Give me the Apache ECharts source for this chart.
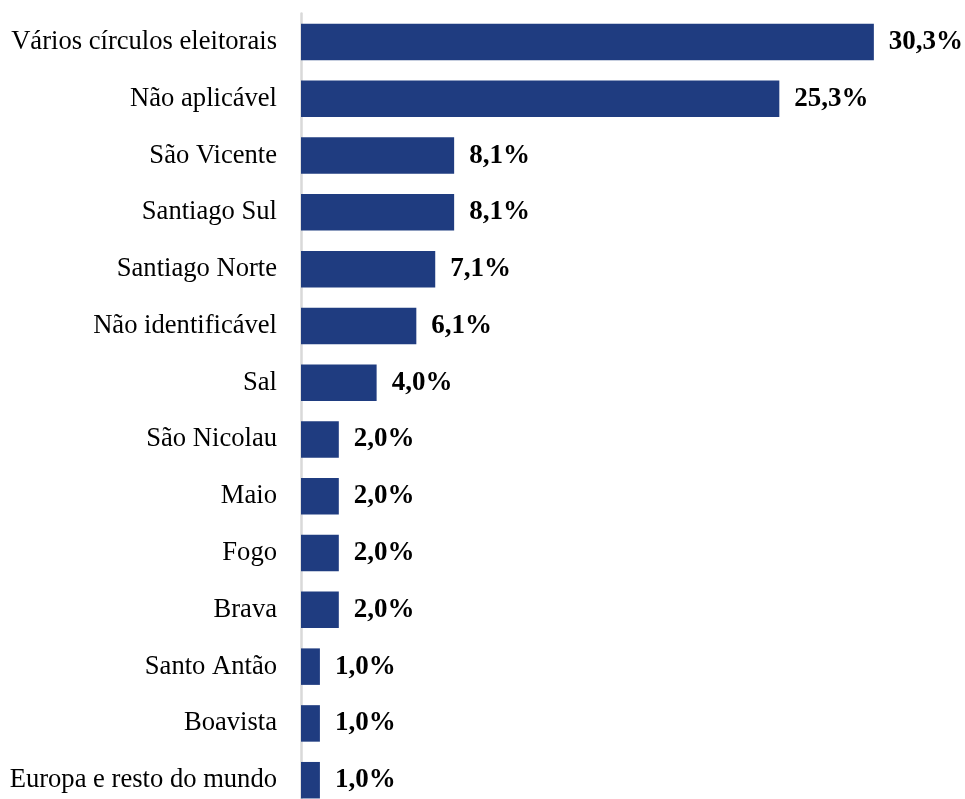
<!DOCTYPE html>
<html>
<head>
<meta charset="utf-8">
<script src="https://cdn.jsdelivr.net/npm/echarts@6/dist/echarts.min.js"></script>
<style>html,body{margin:0;padding:0;background:#fff;}#c{width:965px;height:799px;}</style>
</head>
<body>
<div id="c"></div>
<script>
const categories = ["Vários círculos eleitorais","Não aplicável","São Vicente","Santiago Sul","Santiago Norte","Não identificável","Sal","São Nicolau","Maio","Fogo","Brava","Santo Antão","Boavista","Europa e resto do mundo"];
const values = [30.3,25.3,8.1,8.1,7.1,6.1,4.0,2.0,2.0,2.0,2.0,1.0,1.0,1.0];

const chart = echarts.init(document.getElementById('c'), null, {renderer:'canvas'});
chart.setOption({
  animation:false,
  grid:{left:301, top:13.6, width:605, height:795, outerBoundsMode:'none', containLabel:false},
  xAxis:{type:'value', min:0, max:32, show:false},
  yAxis:{type:'category', data:categories, inverse:true,
    axisLine:{show:true, lineStyle:{color:'#d9d9d9', width:2.5}},
    axisTick:{show:false},
    axisLabel:{margin:24, fontFamily:'Liberation Serif', fontSize:26.6, color:'#000'}
  },
  series:[{type:'bar', data:values, barWidth:36.5,
    itemStyle:{color:'#1F3C80'},
    label:{show:true, position:'right', distance:15, fontFamily:'Liberation Serif', fontWeight:'bold', fontSize:27, color:'#000',
      formatter:p=>p.value.toFixed(1).replace('.',',')+'%'}
  }]
});
</script>
</body>
</html>
